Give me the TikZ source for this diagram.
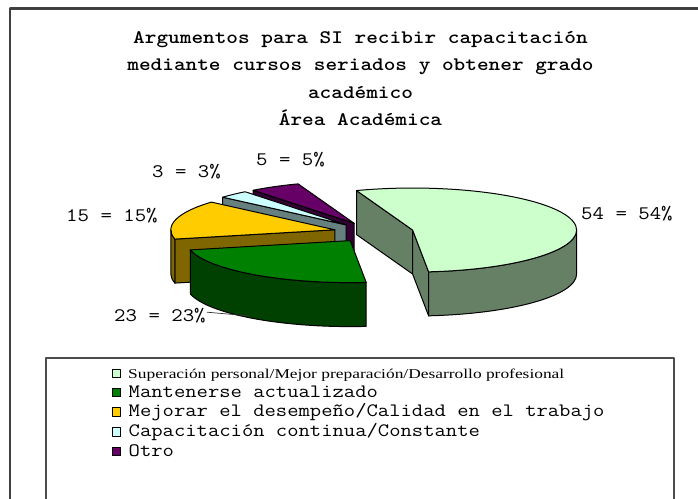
\documentclass[tikz,border=0pt]{standalone}
\usepackage{fontspec}
\newfontfamily\lserif{Liberation Serif}
\usetikzlibrary{calc}
\definecolor{lgtop}{HTML}{CCFFCC}
\definecolor{lgside}{HTML}{668066}
\definecolor{gtop}{HTML}{008000}
\definecolor{gside}{HTML}{004000}
\definecolor{ytop}{HTML}{FFCC00}
\definecolor{yside}{HTML}{806600}
\definecolor{ctop}{HTML}{CCFFFF}
\definecolor{cside}{HTML}{668080}
\definecolor{ptop}{HTML}{660066}
\definecolor{pside}{HTML}{330033}
\newcommand\slicetop[4]{%
  \filldraw[edge, fill=#4] (#1) -- ($(#1)+({164*cos(#2)},{42*sin(#2)})$) arc[start angle=#2, end angle=#3, x radius=164, y radius=42] -- cycle;}
\newcommand\sliceface[3]{%
  \filldraw[edge, fill=#3] (#1) -- ($(#1)+({164*cos(#2)},{42*sin(#2)})$) -- ++(0,-44) -- ($(#1)+(0,-44)$) -- cycle;}
\newcommand\sliceside[4]{%
  \filldraw[edge, fill=#4] ($(#1)+({164*cos(#2)},{42*sin(#2)})$) arc[start angle=#2, end angle=#3, x radius=164, y radius=42] -- ++(0,-44) arc[start angle=#3, end angle=#2, x radius=164, y radius=42] -- cycle;}
\newcommand\squash[1]{\scalebox{1}[0.86]{#1}}
\begin{document}
\begin{tikzpicture}[x=1pt,y=1pt,line join=round,
  edge/.style={draw=black, line width=1pt},
  titletext/.style={font=\ttfamily\bfseries\fontsize{22.2}{26}\selectfont, inner sep=0pt, anchor=base},
  lbl/.style={font=\ttfamily\fontsize{22.2}{26}\selectfont, inner sep=0pt, anchor=base west},
  legtext/.style={font=\ttfamily\fontsize{22}{26}\selectfont, inner sep=0pt, anchor=base west},
  key/.style={draw=black, line width=0.7pt, minimum size=8.5pt, inner sep=0pt, anchor=south west}]
\clip (0,0) rectangle (698,498);
\fill[white] (0,0) rectangle (698,498);
% outer frame
\draw[line width=2.2pt, black!75] (10,-30) -- (10,489.5) -- (730,489.5);
% title
\node[titletext] (t1) at (360.5,454.5) {\squash{Argumentos para SI recibir capacitación}};
\node[titletext] (t2) at (360.5,427) {\squash{mediante cursos seriados y obtener grado}};
\node[titletext] (t3) at (360.5,399.5) {\squash{académico}};
\node[titletext] (t4) at (360.5,372) {\squash{Área Académica}};
% pie
\coordinate (C) at (373.6,265.7);
\coordinate (aLG) at ($(C)+({40*cos(12.8)},{10.24*sin(12.8)})$);
\coordinate (aG) at ($(C)+({40*cos(-125.8)},{10.24*sin(-125.8)})$);
\coordinate (aY) at ($(C)+({40*cos(165.8)},{10.24*sin(165.8)})$);
\coordinate (aC) at ($(C)+({40*cos(133.4)},{10.24*sin(133.4)})$);
\coordinate (aP) at ($(C)+({40*cos(119)},{10.24*sin(119)})$);
% purple
\sliceface{aP}{128}{pside}
\slicetop{aP}{110}{128}{ptop}
% cyan
\sliceface{aC}{138.8}{cside}
\slicetop{aC}{128}{138.8}{ctop}
% yellow
\sliceface{aY}{192.8}{yside}
\sliceside{aY}{180}{192.8}{yside}
\slicetop{aY}{138.8}{192.8}{ytop}
% green
\sliceside{aG}{-167.2}{-84.4}{gside}
\slicetop{aG}{-167.2}{-84.4}{gtop}
% light green
\sliceface{aLG}{110}{lgside}
\sliceface{aLG}{-84.4}{lgside}
\sliceside{aLG}{-84.4}{0}{lgside}
\slicetop{aLG}{-84.4}{110}{lgtop}
% labels
\node[lbl] (l54) at (581,278) {\squash{54 = 54\%}};
\node[lbl] (l15) at (66,276) {\squash{15 = 15\%}};
\node[lbl] (l23) at (114,176) {\squash{23 = 23\%}};
\node[lbl] (l5) at (256,332) {\squash{5 = 5\%}};
\node[lbl] (l3) at (152,320) {\squash{3 = 3\%}};
\coordinate (g23) at (250,182);
\draw[line width=0.7pt, black!80] (l23.east) ++(1,4) -- (g23);
% legend
\draw[line width=1.2pt, black!70] (46,-30) rectangle (674,140);
\node[key, fill=lgtop] (k1) at (111.7,120) {};
\node[key, fill=gtop] (k2) at (111.7,101) {};
\node[key, fill=ytop] (k3) at (111.7,81.5) {};
\node[key, fill=ctop] (k4) at (111.7,61.5) {};
\node[key, fill=ptop] (k5) at (111.7,42) {};
\node[anchor=base west, inner sep=0pt] (e1) at (128,120) {\resizebox{436pt}{9.5pt}{\lserif\fontsize{13}{15}\selectfont Superación personal/Mejor preparación/Desarrollo profesional}};
\node[legtext] (e2) at (128.5,101) {\squash{Mantenerse actualizado}};
\node[legtext] (e3) at (128.5,81.5) {\squash{Mejorar el desempeño/Calidad en el trabajo}};
\node[legtext] (e4) at (128.5,61.5) {\squash{Capacitación continua/Constante}};
\node[legtext] (e5) at (128.5,42) {\squash{Otro}};
\end{tikzpicture}
\end{document}
